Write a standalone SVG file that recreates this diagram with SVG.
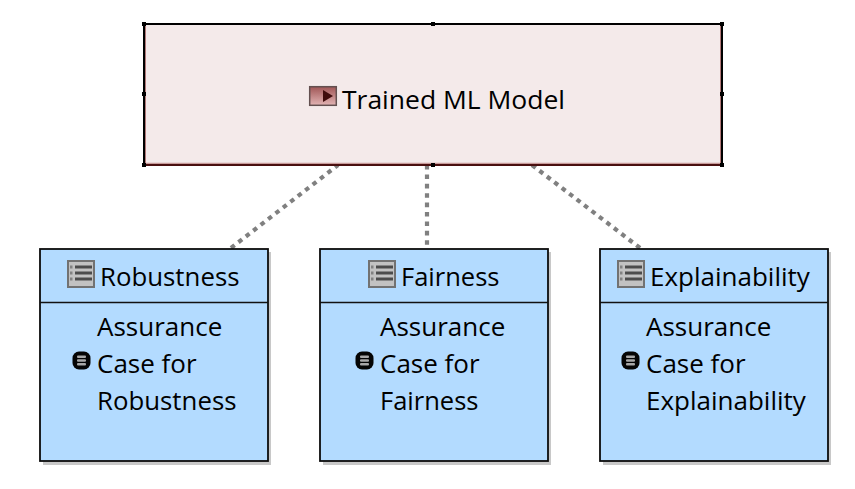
<svg xmlns="http://www.w3.org/2000/svg" width="855" height="489" viewBox="0 0 855 489">
<style>
text{font-family:"Open Sans","Noto Sans","Liberation Sans",sans-serif;font-size:26px;fill:#000;lengthAdjust:spacingAndGlyphs}
.box{fill:#b3dbff;stroke:#0c0c0c;stroke-width:1.8}
.shadow{fill:#c8c8c8}
.div{stroke:#111;stroke-width:1.6}
.h{fill:#000}
.conn{stroke:#808080;stroke-width:4.2;stroke-dasharray:4.6 4.8;fill:none}
.ic{fill:#c2c2c2;stroke:#727272;stroke-width:2}
.il{stroke:#4c4c4c;stroke-width:3}
</style>
<defs>
<linearGradient id="play" x1="0" y1="0" x2="0" y2="1"><stop offset="0" stop-color="#a05656"/><stop offset="1" stop-color="#e2b4b4"/></linearGradient>
<g id="listIcon">
<rect class="ic" x="1" y="1" width="26" height="26"/>
<path class="il" d="M8 7H25M8 13H25M8 19H25"/>
<path class="il" stroke-opacity=".55" d="M3 7H5.500M3 13H5.500M3 19H5.500"/>
</g>
<g id="bullet">
<rect x="-9" y="-9" width="18" height="18" rx="6.500" fill="#050505"/>
<rect x="-4.500" y="-5" width="9" height="2.400" rx="1" fill="#a8a8a8"/>
<rect x="-4.500" y="-1.200" width="9" height="2.400" rx="1" fill="#a8a8a8"/>
<rect x="-4.500" y="2.600" width="9" height="2.400" rx="1" fill="#a8a8a8"/>
</g>
</defs>
<rect width="855" height="489" fill="#fff"/>
<g id="connectors">
<path class="conn" d="M231 248L338 165"/>
<path class="conn" d="M427 165V248"/>
<path class="conn" d="M640 248L532 165"/>
</g>
<g id="trained-ml-model">
<rect x="144" y="24" width="578" height="141" fill="#f4eaea"/>
<path d="M144 24H722M144 24V165M722 24V165" stroke="#000" stroke-width="2" fill="none"/>
<path d="M145.500 25.500V164M720.500 25.500V164" stroke="#b07878" stroke-width="1" fill="none"/>
<path d="M144 165H722" stroke="#4a1010" stroke-width="2" fill="none"/>
<path d="M146 163.300H720" stroke="#c89a9a" stroke-width="1.200" fill="none"/>
<rect x="309.700" y="86.700" width="26.600" height="18.600" fill="url(#play)" stroke="#635050" stroke-width="1.500"/>
<path d="M323 90L333 96L323 102Z" fill="#3f0c0c"/>
<text x="342" y="108.500" textLength="223" lengthAdjust="spacingAndGlyphs">Trained ML Model</text>
<g class="h">
<rect x="142" y="22" width="4" height="4"/><rect x="431" y="22" width="4" height="4"/><rect x="720" y="22" width="4" height="4"/>
<rect x="142" y="92" width="4" height="4"/><rect x="720" y="92" width="4" height="4"/>
<rect x="142" y="163" width="4" height="4"/><rect x="431" y="163" width="4" height="4"/><rect x="720" y="163" width="4" height="4"/>
</g>
</g>
<g id="robustness">
<rect class="shadow" x="43" y="252" width="228" height="213"/>
<rect class="box" x="40" y="249" width="228" height="212"/>
<path class="div" d="M40 302.500H268"/>
<use href="#listIcon" x="67" y="260"/>
<text x="100" y="286" textLength="139.500" lengthAdjust="spacingAndGlyphs">Robustness</text>
<use href="#bullet" x="81.500" y="360.500"/>
<text x="97" y="336">Assurance</text>
<text x="97" y="373">Case for</text>
<text x="97" y="410" textLength="139.500" lengthAdjust="spacingAndGlyphs">Robustness</text>
</g>
<g id="fairness">
<rect class="shadow" x="323" y="252" width="228" height="213"/>
<rect class="box" x="320" y="249" width="228" height="212"/>
<path class="div" d="M320 302.500H548"/>
<use href="#listIcon" x="368" y="260"/>
<text x="401" y="286" textLength="98.500" lengthAdjust="spacingAndGlyphs">Fairness</text>
<use href="#bullet" x="364.500" y="360.500"/>
<text x="380" y="336">Assurance</text>
<text x="380" y="373">Case for</text>
<text x="380" y="410" textLength="98.500" lengthAdjust="spacingAndGlyphs">Fairness</text>
</g>
<g id="explainability">
<rect class="shadow" x="603" y="252" width="228" height="213"/>
<rect class="box" x="600" y="249" width="228" height="212"/>
<path class="div" d="M600 302.500H828"/>
<use href="#listIcon" x="617" y="260"/>
<text x="650" y="286">Explainability</text>
<use href="#bullet" x="630.500" y="360.500"/>
<text x="646" y="336">Assurance</text>
<text x="646" y="373">Case for</text>
<text x="646" y="410">Explainability</text>
</g>
</svg>
